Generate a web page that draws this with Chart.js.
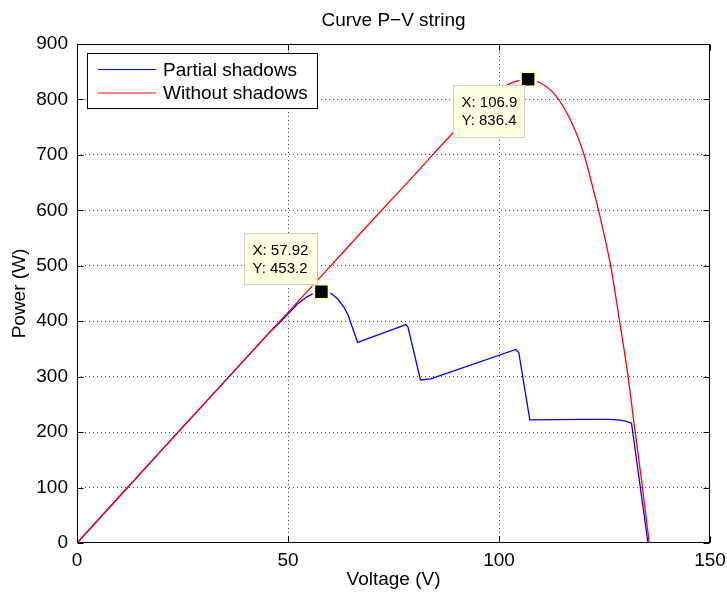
<!DOCTYPE html>
<html>
<head>
<meta charset="utf-8">
<script src="https://cdn.jsdelivr.net/npm/chart.js@4.4.1/dist/chart.umd.min.js"></script>
<style>
  body { margin: 0; background: #fff; }
  #wrap { width: 727px; height: 595px; }
</style>
</head>
<body>
<div id="wrap"><canvas id="pv" width="727" height="595"></canvas></div>
<script>
// values (voltage in V, power in W)
const fullVoltage = [0, 10, 20, 30, 40, 50, 60, 70, 80, 88.5, 95, 98, 100, 102.4, 104.7, 106.9,
    109.5, 113.1, 117.0, 120.2, 122.6, 124.5, 126.5, 128.9, 130.5, 131.9, 133.8, 135.6];
const fullPower = [0, 83.5, 167, 250, 333, 416, 499, 582, 664, 735, 785, 805, 816, 828, 834, 836.4,
    831, 810, 762, 699, 630, 570, 498, 384, 305, 222, 112, 0];

const shadowVoltage = [0, 10, 20, 30, 40, 46, 48, 50.6, 52.5, 54.5, 56.3, 57.92, 59.3, 60.4, 61.8,
    63.2, 64.3, 65.2, 66.5, 77.3, 77.9, 78.4, 81.4, 83.8, 104.0, 104.7, 107.3, 120, 126, 128.2,
    130, 131.4, 135.3];
const shadowPower = [0, 83.5, 167, 250, 333, 383, 397, 418, 433, 444, 451, 453.2, 452, 449, 440,
    426, 410, 390, 362, 392, 394, 390, 294, 296, 349, 343, 222, 223, 223, 222,
    220, 216, 0];

const tipVoltage = [57.92, 106.9];
const tipPower = [453.2, 836.4];

const seriesNames = ["Partial shadows", "Without shadows"];
const seriesColors = ["#0000ff", "#ff0000"];

const xTicks = [0, 50, 100, 150];
const yTicks = [0, 100, 200, 300, 400, 500, 600, 700, 800, 900];

const FONT = "'Liberation Sans', Arial, Helvetica, sans-serif";

function pairs(xs, ys) {
    return xs.map((v, i) => ({x: v, y: ys[i]}));
}

// matlab look: frame, inner ticks, titles, legend and data tips
const matlabBits = {
    id: "matlabBits",
    afterDraw(chart) {
        const {ctx, chartArea: a, scales} = chart;
        const sx = scales.x, sy = scales.y;
        ctx.save();

        ctx.strokeStyle = "#000";
        ctx.lineWidth = 1;
        const L = Math.round(a.left) + 0.5, R = Math.round(a.right) - 0.5;
        const T = Math.round(a.top) + 0.5, B = Math.round(a.bottom) - 0.5;
        ctx.strokeRect(L, T, R - L, B - T);

        ctx.beginPath();
        xTicks.forEach(v => {
            const p = Math.round(sx.getPixelForValue(v)) + 0.5;
            ctx.moveTo(p, B); ctx.lineTo(p, B - 6);
            ctx.moveTo(p, T); ctx.lineTo(p, T + 6);
        });
        yTicks.forEach(v => {
            const p = Math.round(sy.getPixelForValue(v)) + 0.5;
            ctx.moveTo(L, p); ctx.lineTo(L + 6, p);
            ctx.moveTo(R, p); ctx.lineTo(R - 6, p);
        });
        ctx.stroke();

        ctx.fillStyle = "#000";
        ctx.font = "19px " + FONT;
        ctx.textAlign = "center";
        ctx.textBaseline = "middle";
        ctx.fillText("Curve P\u2212V string", (a.left + a.right) / 2, 21);
        ctx.fillText("Voltage (V)", (a.left + a.right) / 2, 580);
        ctx.save();
        ctx.translate(20, (a.top + a.bottom) / 2);
        ctx.rotate(-Math.PI / 2);
        ctx.fillText("Power (W)", 0, 0);
        ctx.restore();

        // legend
        ctx.fillStyle = "#fff";
        ctx.fillRect(87, 53, 230, 55);
        ctx.strokeStyle = "#000";
        ctx.strokeRect(87.5, 53.5, 230, 55);
        ctx.textAlign = "left";
        ctx.font = "19px " + FONT;
        seriesNames.forEach((name, i) => {
            const yy = 69.5 + i * 23.5;
            ctx.strokeStyle = seriesColors[i];
            ctx.lineWidth = 1.2;
            ctx.beginPath();
            ctx.moveTo(98, yy); ctx.lineTo(156, yy);
            ctx.stroke();
            ctx.fillStyle = "#000";
            ctx.fillText(name, 163, yy + 1);
        });

        // data tips
        const boxes = [
            {dx: -77, dy: -59, w: 73, h: 51},
            {dx: -75, dy: 6, w: 71, h: 52}
        ];
        ctx.font = "15px " + FONT;
        tipVoltage.forEach((v, i) => {
            const px = sx.getPixelForValue(v), py = sy.getPixelForValue(tipPower[i]);
            const b = boxes[i];
            const bx = Math.round(px + b.dx) + 0.5, by = Math.round(py + b.dy) + 0.5;
            ctx.fillStyle = "#ffffe1";
            ctx.fillRect(bx, by, b.w, b.h);
            ctx.strokeStyle = "#cfcfc4";
            ctx.lineWidth = 1;
            ctx.strokeRect(bx, by, b.w, b.h);
            ctx.fillStyle = "#000";
            ctx.fillText("X: " + v, bx + 8, by + 17.5);
            ctx.fillText("Y: " + tipPower[i], bx + 8, by + 35.5);
        });

        ctx.restore();
    }
};

new Chart(document.getElementById("pv"), {
    type: "scatter",
    data: {
        datasets: [
            {
                type: "scatter",
                label: "tips",
                data: pairs(tipVoltage, tipPower),
                pointStyle: "rect",
                pointRadius: 10.6,
                pointBorderWidth: 2.5,
                pointBackgroundColor: "#000",
                pointBorderColor: "#ffffcc",
                order: -1
            },
            {
                type: "line",
                label: seriesNames[1],
                data: pairs(fullVoltage, fullPower),
                borderColor: seriesColors[1],
                borderWidth: 1.3,
                pointRadius: 0,
                cubicInterpolationMode: "monotone",
                fill: false,
                order: 0
            },
            {
                type: "line",
                label: seriesNames[0],
                data: pairs(shadowVoltage, shadowPower),
                borderColor: seriesColors[0],
                borderWidth: 1.3,
                pointRadius: 0,
                tension: 0,
                fill: false,
                order: 1
            }
        ]
    },
    options: {
        responsive: false,
        animation: false,
        events: [],
        layout: {padding: {left: 0, right: 17, top: 44, bottom: 0}},
        plugins: {
            legend: {display: false},
            title: {display: false},
            tooltip: {enabled: false}
        },
        scales: {
            x: {
                type: "linear",
                min: 0, max: 150,
                afterBuildTicks: s => { s.ticks = xTicks.map(v => ({value: v})); },
                afterFit: s => { s.height = 52; s.paddingLeft = 0; s.paddingRight = 0; },
                ticks: {color: "#000", font: {family: FONT, size: 19}, padding: 6, maxRotation: 0},
                grid: {
                    drawTicks: false,
                    lineWidth: 1,
                    color: c => (c.tick && (c.tick.value === 0 || c.tick.value === 150)) ? "rgba(0,0,0,0)" : "rgba(0,0,0,0.7)"
                },
                border: {display: false, dash: [1, 3]}
            },
            y: {
                type: "linear",
                min: 0, max: 900,
                afterBuildTicks: s => { s.ticks = yTicks.map(v => ({value: v})); },
                afterFit: s => { s.width = 77; s.paddingTop = 0; s.paddingBottom = 0; },
                ticks: {color: "#000", font: {family: FONT, size: 19}, padding: 9},
                grid: {
                    drawTicks: false,
                    lineWidth: 1,
                    color: c => (c.tick && (c.tick.value === 0 || c.tick.value === 900)) ? "rgba(0,0,0,0)" : "rgba(0,0,0,0.7)"
                },
                border: {display: false, dash: [1, 3]}
            }
        }
    },
    plugins: [matlabBits]
});
</script>
</body>
</html>
